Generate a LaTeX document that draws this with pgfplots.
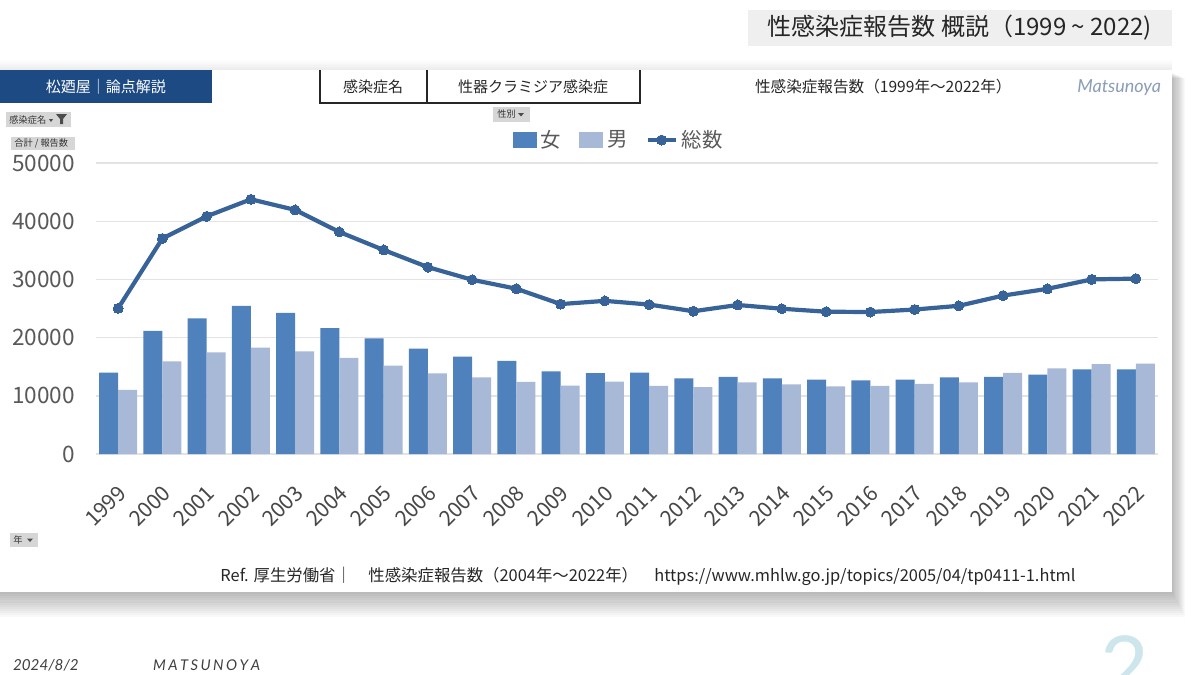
\documentclass[border=0pt]{standalone}
\usepackage{fontspec}
\setmainfont{Noto Sans CJK JP}
\newfontfamily\latofont{Lato}
\usepackage{pgfplots}
\usepackage{pgfplotstable}
\pgfplotsset{compat=1.18}
\definecolor{femc}{HTML}{4F81BD}
\definecolor{malec}{HTML}{A8B9D7}
\definecolor{linec}{HTML}{386399}
\definecolor{gridc}{HTML}{E3E3E3}
\definecolor{tickc}{HTML}{595959}
\definecolor{darkbox}{HTML}{1D4A82}
\definecolor{titlebg}{HTML}{EFEFEF}
\definecolor{btn}{HTML}{D6D6D6}
\definecolor{matsu}{HTML}{8A9DB8}
\definecolor{pagenum}{HTML}{CDE6EC}
\pgfplotsset{
  sqlegend/.style={legend image code/.code={\fill[##1,/tikz/.cd] (0pt,-4pt) rectangle (12pt,4pt);}},
  lnlegend/.style={legend image code/.code={\draw[mark repeat=2,mark phase=2,##1] plot coordinates {(0pt,0pt) (7pt,0pt) (14pt,0pt)};}}
}
\pgfplotstableread{
x year F M T
0 1999 14000 11000 25033
1 2000 21150 15900 37028
2 2001 23300 17450 40836
3 2002 25450 18300 43766
4 2003 24250 17650 41945
5 2004 21650 16500 38155
6 2005 19850 15200 35057
7 2006 18100 13850 32112
8 2007 16750 13150 29939
9 2008 16000 12400 28398
10 2009 14200 11750 25760
11 2010 13900 12450 26315
12 2011 14000 11700 25682
13 2012 13000 11500 24530
14 2013 13250 12300 25606
15 2014 13000 11950 24960
16 2015 12800 11600 24450
17 2016 12650 11700 24397
18 2017 12800 12050 24825
19 2018 13150 12300 25467
20 2019 13250 13950 27221
21 2020 13650 14700 28381
22 2021 14550 15450 30003
23 2022 14550 15550 30136
}\data
\begin{document}
\begin{tikzpicture}[x=0.5pt,y=-0.5pt]
\useasboundingbox (0,0) rectangle (1200,675);
\fill[white] (0,0) rectangle (1200,675);
% shadow of the panel
\foreach \i in {1,...,12}{\fill[black,opacity=0.022] (0,72+0.5*\i) rectangle (1172+1.1*\i,592+2.1*\i);}
\foreach \i in {1,...,6}{\fill[black,opacity=0.010] (0,70-1.6*\i) rectangle (1172,70);}
\fill[white] (0,70) rectangle (1172,592);
% title box
\fill[titlebg] (748,10) rectangle (1172,46);
\node[font=\fontsize{12}{12}\selectfont,text=black!85] at (960,28) {性感染症報告数 概説（1999 \textasciitilde{} 2022)};
% dark box
\fill[darkbox] (0,70) rectangle (212,103);
\node[text=white,font=\fontsize{7.5}{7.5}\selectfont] at (106,87) {松廼屋｜論点解説};
% header box
\draw[line width=0.6pt,black!85] (320,70) -- (320,103) -- (640,103) -- (640,70);
\draw[line width=0.6pt,black!85] (427,70) -- (427,103);
\node[font=\fontsize{7.5}{7.5}\selectfont,text=black!85] at (373,87) {感染症名};
\node[font=\fontsize{7.5}{7.5}\selectfont,text=black!85] at (533,87) {性器クラミジア感染症};
\node[anchor=west,font=\fontsize{7.8}{7.8}\selectfont,text=black!85] at (748,87) {性感染症報告数（1999年～2022年）};
\node[anchor=east,font=\latofont\itshape\fontsize{9}{9}\selectfont,text=matsu] at (1168,88) {Matsunoya};
% buttons
\fill[btn] (6,112) rectangle (71,127);
\node[anchor=west,font=\fontsize{4.6}{4.6}\selectfont,text=black!80,inner sep=0pt] at (9,119.5) {感染症名};
\fill[black!70] (49,119) -- (53,119) -- (51,122) -- cycle;
\fill[black!70] (56,114) -- (67,114) -- (63,119) -- (63,124) -- (60,124) -- (60,119) -- cycle;
\fill[btn] (11,137) rectangle (75,150);
\node[anchor=west,font=\fontsize{4.6}{4.6}\selectfont,text=black!80,inner sep=0pt] at (14,143.5) {合計 / 報告数};
\fill[btn] (493,107) rectangle (530,122);
\node[anchor=west,font=\fontsize{4.6}{4.6}\selectfont,text=black!80,inner sep=0pt] at (497,114.5) {性別};
\fill[black!70] (518,113) -- (524,113) -- (521,116.5) -- cycle;
\fill[btn] (10,533) rectangle (38,547);
\node[anchor=west,font=\fontsize{4.6}{4.6}\selectfont,text=black!80,inner sep=0pt] at (13,540) {年};
\fill[black!70] (27,538.5) -- (33,538.5) -- (30,542) -- cycle;
% chart
\begin{axis}[
  at={(48pt,-227pt)}, anchor=south west,
  width=531pt, height=145.5pt, scale only axis,
  xmin=-0.5, xmax=23.5, ymin=0, ymax=50000,
  axis line style={draw=none},
  major tick length=0pt,
  ymajorgrids, grid style={gridc,line width=0.7pt},
  ytick={0,10000,20000,30000,40000,50000},
  scaled y ticks=false,
  /pgf/number format/assume math mode=true,
  /pgf/number format/1000 sep={},
  yticklabel style={font=\fontsize{11.3}{11.3}\selectfont,text=tickc,xshift=-7pt},
  xtick={0,...,23},
  xticklabels from table={\data}{year},
  xticklabel style={font=\fontsize{10.6}{10.6}\selectfont,text=black!72,rotate=45,anchor=north east,xshift=-7.5pt,yshift=-6.5pt},
  legend style={at={(0.493,1.079)},anchor=center,draw=none,fill=none,
    font=\fontsize{10.2}{10.2}\selectfont,text=tickc,legend columns=3,
    /tikz/every even column/.append style={column sep=7pt},
    /tikz/every odd column/.append style={inner xsep=1pt}},
  legend cell align=left,
]
\addplot[ybar,bar width=0.43,bar shift=-0.215,fill=femc,draw=none,sqlegend] table[x=x,y=F]{\data};
\addlegendentry{女}
\addplot[ybar,bar width=0.43,bar shift=0.215,fill=malec,draw=none,sqlegend] table[x=x,y=M]{\data};
\addlegendentry{男}
\addplot[sharp plot,color=linec,line width=2.1pt,mark=*,mark size=2.5pt,mark options={fill=linec,draw=linec,line width=0pt},lnlegend] table[x=x,y=T]{\data};
\addlegendentry{総数}
\end{axis}
% reference
\node[font=\fontsize{8.2}{8.2}\selectfont,text=black!85] at (648,576) {Ref. 厚生労働省｜　性感染症報告数（2004年～2022年）　https://www.mhlw.go.jp/topics/2005/04/tp0411-1.html};
% footer
\node[anchor=west,font=\latofont\itshape\fontsize{7.6}{7.6}\selectfont,text=black!75] at (6,665) {2024/8/2};
\node[anchor=west,font=\latofont\itshape\fontsize{7.4}{7.4}\selectfont,text=black!75] at (146,665) {M\,A\,T\,S\,U\,N\,O\,Y\,A};
\node[font=\latofont\fontsize{42}{42}\selectfont,text=pagenum] at (1125,666) {2};
\end{tikzpicture}
\end{document}
